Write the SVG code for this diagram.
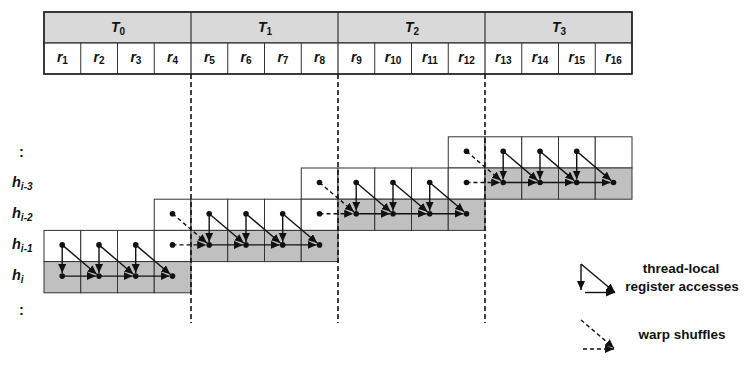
<svg xmlns="http://www.w3.org/2000/svg" width="748" height="383" viewBox="0 0 748 383">
<style>
text{font-family:"Liberation Sans",Arial,sans-serif;font-weight:bold;fill:#111}
.it{font-style:italic}
.hd{fill:#d9d9d9;stroke:#333;stroke-width:1.2}
.rc{fill:#fff;stroke:#333;stroke-width:1.2}
.w{fill:#fff;stroke:#333;stroke-width:1}
.g{fill:#c0c0c0;stroke:#333;stroke-width:1}
.sep{stroke:#111;stroke-width:1.6;stroke-dasharray:5,3;fill:none}
.a{stroke:#111;stroke-width:1.4;fill:none;marker-end:url(#ah)}
.d{stroke:#111;stroke-width:1.4;fill:none;stroke-dasharray:4,3;marker-end:url(#ah)}
.dot{fill:#111}
</style>
<defs>
<marker id="ah" markerUnits="userSpaceOnUse" markerWidth="10" markerHeight="9" refX="9" refY="4" orient="auto">
<path d="M0,0 L9,4 L0,8 z" fill="#111"/>
</marker>
</defs>

<g id="header">
<rect class="hd" x="44" y="12" width="588" height="31"/>
<rect class="rc" x="44" y="43" width="588" height="31"/>
<path d="M191,12V74M338,12V74M485,12V74" stroke="#333" stroke-width="1.2"/>
<path d="M80.75,43V74M117.5,43V74M154.25,43V74M227.75,43V74M264.5,43V74M301.25,43V74M374.75,43V74M411.5,43V74M448.25,43V74M521.75,43V74M558.5,43V74M595.25,43V74" stroke="#333" stroke-width="1"/>
<rect x="44" y="12" width="588" height="62" fill="none" stroke="#222" stroke-width="1.5"/>
<g font-size="14" text-anchor="middle">
<text x="118" y="31.5"><tspan class="it">T</tspan><tspan font-size="10" dy="3">0</tspan></text>
<text x="265" y="31.5"><tspan class="it">T</tspan><tspan font-size="10" dy="3">1</tspan></text>
<text x="412" y="31.5"><tspan class="it">T</tspan><tspan font-size="10" dy="3">2</tspan></text>
<text x="559" y="31.5"><tspan class="it">T</tspan><tspan font-size="10" dy="3">3</tspan></text>
</g>
<g font-size="14" text-anchor="middle">
<text x="62.4" y="62"><tspan class="it">r</tspan><tspan font-size="10" dy="2">1</tspan></text>
<text x="99.1" y="62"><tspan class="it">r</tspan><tspan font-size="10" dy="2">2</tspan></text>
<text x="135.9" y="62"><tspan class="it">r</tspan><tspan font-size="10" dy="2">3</tspan></text>
<text x="172.6" y="62"><tspan class="it">r</tspan><tspan font-size="10" dy="2">4</tspan></text>
<text x="209.4" y="62"><tspan class="it">r</tspan><tspan font-size="10" dy="2">5</tspan></text>
<text x="246.1" y="62"><tspan class="it">r</tspan><tspan font-size="10" dy="2">6</tspan></text>
<text x="282.9" y="62"><tspan class="it">r</tspan><tspan font-size="10" dy="2">7</tspan></text>
<text x="319.6" y="62"><tspan class="it">r</tspan><tspan font-size="10" dy="2">8</tspan></text>
<text x="356.4" y="62"><tspan class="it">r</tspan><tspan font-size="10" dy="2">9</tspan></text>
<text x="393.1" y="62"><tspan class="it">r</tspan><tspan font-size="10" dy="2">10</tspan></text>
<text x="429.9" y="62"><tspan class="it">r</tspan><tspan font-size="10" dy="2">11</tspan></text>
<text x="466.6" y="62"><tspan class="it">r</tspan><tspan font-size="10" dy="2">12</tspan></text>
<text x="503.4" y="62"><tspan class="it">r</tspan><tspan font-size="10" dy="2">13</tspan></text>
<text x="540.1" y="62"><tspan class="it">r</tspan><tspan font-size="10" dy="2">14</tspan></text>
<text x="576.9" y="62"><tspan class="it">r</tspan><tspan font-size="10" dy="2">15</tspan></text>
<text x="613.6" y="62"><tspan class="it">r</tspan><tspan font-size="10" dy="2">16</tspan></text>
</g>
</g>

<g id="row-labels" font-size="14.5">
<text x="19" y="157">:</text>
<text x="12" y="187"><tspan class="it">h</tspan><tspan class="it" font-size="10" dy="3">i-3</tspan></text>
<text x="12" y="218"><tspan class="it">h</tspan><tspan class="it" font-size="10" dy="3">i-2</tspan></text>
<text x="12" y="248.5"><tspan class="it">h</tspan><tspan class="it" font-size="10" dy="3">i-1</tspan></text>
<text x="12" y="280"><tspan class="it">h</tspan><tspan class="it" font-size="10" dy="3">i</tspan></text>
<text x="19" y="315">:</text>
</g>

<g id="row-top">
<rect class="w" x="448.25" y="136.8" width="36.75" height="31.2"/>
<rect class="w" x="485" y="136.8" width="36.75" height="31.2"/>
<rect class="w" x="521.75" y="136.8" width="36.75" height="31.2"/>
<rect class="w" x="558.5" y="136.8" width="36.75" height="31.2"/>
<rect class="w" x="595.25" y="136.8" width="36.75" height="31.2"/>
</g>
<g id="row-hi3">
<rect class="w" x="301.25" y="168" width="36.75" height="31.2"/>
<rect class="w" x="338" y="168" width="36.75" height="31.2"/>
<rect class="w" x="374.75" y="168" width="36.75" height="31.2"/>
<rect class="w" x="411.5" y="168" width="36.75" height="31.2"/>
<rect class="w" x="448.25" y="168" width="36.75" height="31.2"/>
<rect class="g" x="485" y="168" width="36.75" height="31.2"/>
<rect class="g" x="521.75" y="168" width="36.75" height="31.2"/>
<rect class="g" x="558.5" y="168" width="36.75" height="31.2"/>
<rect class="g" x="595.25" y="168" width="36.75" height="31.2"/>
</g>
<g id="row-hi2">
<rect class="w" x="154.25" y="199.2" width="36.75" height="31.2"/>
<rect class="w" x="191" y="199.2" width="36.75" height="31.2"/>
<rect class="w" x="227.75" y="199.2" width="36.75" height="31.2"/>
<rect class="w" x="264.5" y="199.2" width="36.75" height="31.2"/>
<rect class="w" x="301.25" y="199.2" width="36.75" height="31.2"/>
<rect class="g" x="338" y="199.2" width="36.75" height="31.2"/>
<rect class="g" x="374.75" y="199.2" width="36.75" height="31.2"/>
<rect class="g" x="411.5" y="199.2" width="36.75" height="31.2"/>
<rect class="g" x="448.25" y="199.2" width="36.75" height="31.2"/>
</g>
<g id="row-hi1">
<rect class="w" x="44" y="230.4" width="36.75" height="31.2"/>
<rect class="w" x="80.75" y="230.4" width="36.75" height="31.2"/>
<rect class="w" x="117.5" y="230.4" width="36.75" height="31.2"/>
<rect class="w" x="154.25" y="230.4" width="36.75" height="31.2"/>
<rect class="g" x="191" y="230.4" width="36.75" height="31.2"/>
<rect class="g" x="227.75" y="230.4" width="36.75" height="31.2"/>
<rect class="g" x="264.5" y="230.4" width="36.75" height="31.2"/>
<rect class="g" x="301.25" y="230.4" width="36.75" height="31.2"/>
</g>
<g id="row-hi">
<rect class="g" x="44" y="261.6" width="36.75" height="31.2"/>
<rect class="g" x="80.75" y="261.6" width="36.75" height="31.2"/>
<rect class="g" x="117.5" y="261.6" width="36.75" height="31.2"/>
<rect class="g" x="154.25" y="261.6" width="36.75" height="31.2"/>
</g>

<g id="thread-separators">
<path class="sep" d="M191,74V323M338,74V323M485,74V323"/>
</g>

<g id="connectors">
<path class="a" d="M62.2,244.9V273.1"/>
<path class="a" d="M62.2,244.9L96.7,274.2"/>
<path class="a" d="M62.2,276.1H96"/>
<path class="a" d="M99,244.9V273.1"/>
<path class="a" d="M99,244.9L133.4,274.2"/>
<path class="a" d="M99,276.1H132.7"/>
<path class="a" d="M135.7,244.9V273.1"/>
<path class="a" d="M135.7,244.9L170.2,274.2"/>
<path class="a" d="M135.7,276.1H169.5"/>
<path class="d" d="M172.5,213.7L206.9,243"/>
<path class="d" d="M172.5,244.9H206.2"/>
<path class="a" d="M209.2,213.7V241.9"/>
<path class="a" d="M209.2,213.7L243.7,243"/>
<path class="a" d="M209.2,244.9H243"/>
<path class="a" d="M246,213.7V241.9"/>
<path class="a" d="M246,213.7L280.4,243"/>
<path class="a" d="M246,244.9H279.7"/>
<path class="a" d="M282.7,213.7V241.9"/>
<path class="a" d="M282.7,213.7L317.2,243"/>
<path class="a" d="M282.7,244.9H316.5"/>
<path class="d" d="M319.5,182.5L353.9,211.8"/>
<path class="d" d="M319.5,213.7H353.2"/>
<path class="a" d="M356.2,182.5V210.7"/>
<path class="a" d="M356.2,182.5L390.7,211.8"/>
<path class="a" d="M356.2,213.7H390"/>
<path class="a" d="M393,182.5V210.7"/>
<path class="a" d="M393,182.5L427.4,211.8"/>
<path class="a" d="M393,213.7H426.7"/>
<path class="a" d="M429.7,182.5V210.7"/>
<path class="a" d="M429.7,182.5L464.2,211.8"/>
<path class="a" d="M429.7,213.7H463.5"/>
<path class="d" d="M466.5,151.3L500.9,180.6"/>
<path class="d" d="M466.5,182.5H500.2"/>
<path class="a" d="M503.2,151.3V179.5"/>
<path class="a" d="M503.2,151.3L537.7,180.6"/>
<path class="a" d="M503.2,182.5H537"/>
<path class="a" d="M540,151.3V179.5"/>
<path class="a" d="M540,151.3L574.4,180.6"/>
<path class="a" d="M540,182.5H573.7"/>
<path class="a" d="M576.7,151.3V179.5"/>
<path class="a" d="M576.7,151.3L611.2,180.6"/>
<path class="a" d="M576.7,182.5H610.5"/>
</g>

<g id="dots">
<circle class="dot" cx="62.2" cy="244.9" r="2.8"/>
<circle class="dot" cx="99" cy="244.9" r="2.8"/>
<circle class="dot" cx="135.7" cy="244.9" r="2.8"/>
<circle class="dot" cx="172.5" cy="244.9" r="2.8"/>
<circle class="dot" cx="62.2" cy="276.1" r="2.8"/>
<circle class="dot" cx="99" cy="276.1" r="2.8"/>
<circle class="dot" cx="135.7" cy="276.1" r="2.8"/>
<circle class="dot" cx="172.5" cy="276.1" r="2.8"/>
<circle class="dot" cx="172.5" cy="213.7" r="2.8"/>
<circle class="dot" cx="209.2" cy="213.7" r="2.8"/>
<circle class="dot" cx="246" cy="213.7" r="2.8"/>
<circle class="dot" cx="282.7" cy="213.7" r="2.8"/>
<circle class="dot" cx="319.5" cy="213.7" r="2.8"/>
<circle class="dot" cx="209.2" cy="244.9" r="2.8"/>
<circle class="dot" cx="246" cy="244.9" r="2.8"/>
<circle class="dot" cx="282.7" cy="244.9" r="2.8"/>
<circle class="dot" cx="319.5" cy="244.9" r="2.8"/>
<circle class="dot" cx="319.5" cy="182.5" r="2.8"/>
<circle class="dot" cx="356.2" cy="182.5" r="2.8"/>
<circle class="dot" cx="393" cy="182.5" r="2.8"/>
<circle class="dot" cx="429.7" cy="182.5" r="2.8"/>
<circle class="dot" cx="466.5" cy="182.5" r="2.8"/>
<circle class="dot" cx="356.2" cy="213.7" r="2.8"/>
<circle class="dot" cx="393" cy="213.7" r="2.8"/>
<circle class="dot" cx="429.7" cy="213.7" r="2.8"/>
<circle class="dot" cx="466.5" cy="213.7" r="2.8"/>
<circle class="dot" cx="466.5" cy="151.3" r="2.8"/>
<circle class="dot" cx="503.2" cy="151.3" r="2.8"/>
<circle class="dot" cx="540" cy="151.3" r="2.8"/>
<circle class="dot" cx="576.7" cy="151.3" r="2.8"/>
<circle class="dot" cx="503.2" cy="182.5" r="2.8"/>
<circle class="dot" cx="540" cy="182.5" r="2.8"/>
<circle class="dot" cx="576.7" cy="182.5" r="2.8"/>
<circle class="dot" cx="613.5" cy="182.5" r="2.8"/>
</g>

<g id="legend">
<path class="a" d="M581,264V290"/>
<path class="a" d="M581,264L615,292.5"/>
<path class="a" d="M585,292.5H615"/>
<path class="d" d="M581,320L614,348"/>
<path class="d" d="M583,349H614"/>
<g font-size="13.5" text-anchor="middle">
<text x="681" y="272.5">thread-local</text>
<text x="682" y="290.5">register accesses</text>
<text x="682" y="339">warp shuffles</text>
</g>
</g>
</svg>
